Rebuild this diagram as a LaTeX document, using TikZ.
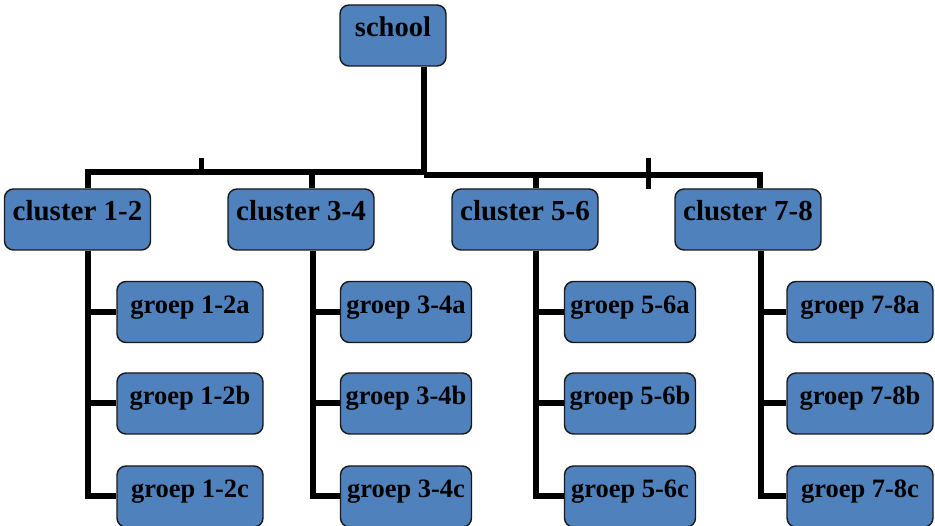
\documentclass[tikz,border=0pt]{standalone}
\usepackage{fontspec}
\setmainfont{Liberation Serif}
\definecolor{boxblue}{HTML}{4F81BD}
\begin{document}
\begin{tikzpicture}[x=1pt,y=-1pt,
  box/.style={draw=black!90, line width=1.4pt, fill=boxblue, rounded corners=9pt,
    inner sep=0pt, minimum height=61pt, text height=20pt, text depth=17pt},
  topbox/.style={box, font=\fontsize{28.5}{30}\selectfont\bfseries},
  clbox/.style={box, minimum width=146pt, font=\fontsize{29}{30}\selectfont\bfseries},
  grbox/.style={box, font=\fontsize{26.5}{28}\selectfont\bfseries},
  wide/.style={grbox, minimum width=146pt},
  narrow/.style={grbox, minimum width=131pt},
  conn/.style={line width=6pt, line join=miter}]
\useasboundingbox (0,0) rectangle (935,526);
\fill[white] (0,0) rectangle (935,526);

\node[topbox, minimum width=106pt] (school) at (393,35.5) {school};

\node[clbox] (c12) at (77.5,219.5) {cluster 1-2};
\node[clbox] (c34) at (301,219.5) {cluster 3-4};
\node[clbox] (c56) at (525,219.5) {cluster 5-6};
\node[clbox] (c78) at (748,219.5) {cluster 7-8};

\node[wide]   (g12a) at (190,312)   {groep 1-2a};
\node[wide]   (g12b) at (190,403.5) {groep 1-2b};
\node[wide]   (g12c) at (190,496.5) {groep 1-2c};
\node[narrow] (g34a) at (406,312)   {groep 3-4a};
\node[narrow] (g34b) at (406,403.5) {groep 3-4b};
\node[narrow] (g34c) at (406,496.5) {groep 3-4c};
\node[narrow] (g56a) at (630,312)   {groep 5-6a};
\node[narrow] (g56b) at (630,403.5) {groep 5-6b};
\node[narrow] (g56c) at (630,496.5) {groep 5-6c};
\node[wide]   (g78a) at (860,312)   {groep 7-8a};
\node[wide]   (g78b) at (860,403.5) {groep 7-8b};
\node[wide]   (g78c) at (860,496.5) {groep 7-8c};

% junction coordinates
\coordinate (j12) at (88,172);
\coordinate (j34) at (312,172);
\coordinate (kl)  at (424,172);
\coordinate (kr)  at (424,175);
\coordinate (j56) at (535.5,175);
\coordinate (j78) at (760,175);
\coordinate (t1top) at (201,158);
\coordinate (t1bot) at (201,172);
\coordinate (t2top) at (648,158);
\coordinate (t2bot) at (648,189);
\coordinate (v12) at (88,0);
\coordinate (v34) at (313,0);
\coordinate (v56) at (535.5,0);
\coordinate (v78) at (761,0);

% school to bar
\draw[conn] (school.south -| kl) -- (kl);
\draw[conn] (j12 |- c12.north) -- (j12) -- (kl);
\draw[conn] (kr) -- (j78) -- (j78 |- c78.north);
\draw[conn] (j34) -- (j34 |- c34.north);
\draw[conn] (j56) -- (j56 |- c56.north);
\draw[line width=5pt] (t1top) -- (t1bot);
\draw[line width=5pt] (t2top) -- (t2bot);

% clusters to groups
\foreach \c/\v in {12/v12,34/v34,56/v56,78/v78}{
  \draw[conn] (\v |- c\c.south) -- (\v |- g\c c.west) -- (g\c c.west);
  \draw[conn] (\v |- g\c a.west) -- (g\c a.west);
  \draw[conn] (\v |- g\c b.west) -- (g\c b.west);
}
\end{tikzpicture}
\end{document}
